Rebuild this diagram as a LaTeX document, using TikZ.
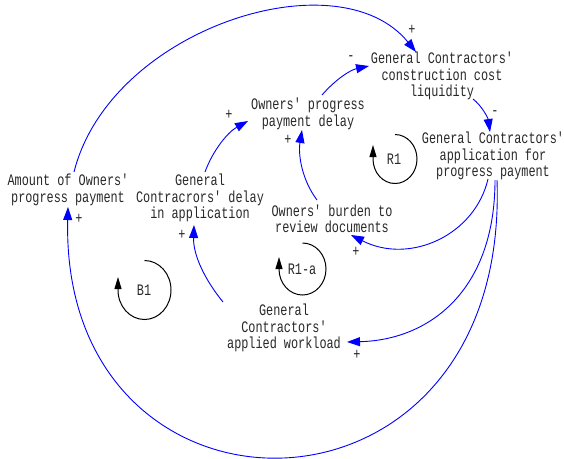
\documentclass[tikz,border=0pt]{standalone}
\usepackage{fontspec}
\newfontfamily\cldfont[FakeStretch=0.74]{Liberation Mono}
\usetikzlibrary{arrows.meta}
\definecolor{txt}{RGB}{40,40,40}
\definecolor{linkblue}{RGB}{0,0,255}
\tikzset{
  var/.style={font={\cldfont\fontsize{16}{16.5}\selectfont}, text=txt, align=center, inner sep=0pt},
  polarity/.style={font={\cldfont\fontsize{16}{16}\selectfont}, text=txt, inner sep=0pt},
  link/.style={draw=linkblue, line width=0.9pt, -{Triangle[length=13pt,width=9pt]}},
  loopline/.style={draw=black, line width=1pt, -{Triangle[length=12pt,width=7pt]}},
}
\begin{document}
\begin{tikzpicture}[x=1pt,y=-1pt]
\useasboundingbox (0,0) rectangle (564,458);

% variables
\node[var] (amt) at (68,190)  {Amount of Owners'\\progress payment};
\node[var] (del) at (200,198) {General\\Contracrors' delay\\in application};
\node[var] (opd) at (308,114) {Owners' progress\\payment delay};
\node[var] (liq) at (442,76)  {General Contractors'\\construction cost\\liquidity};
\node[var] (app) at (493,156) {General Contractors'\\application for\\progress payment};
\node[var] (bur) at (332,219) {Owners' burden to\\review documents};
\node[var] (wl)  at (284,328) {General\\Contractors'\\applied workload};

% loop identifiers
\node[var] (b1)  at (144,290) {B1};
\node[var] (r1a) at (302,269) {R1-a};
\node[var] (r1)  at (394,159) {R1};

% causal links
\draw[link] ([shift={(6,-18)}]amt.center) .. controls +(36,-143) and +(-78,-96) .. ([shift={(-26,-24)}]liq.center);
\draw[link] ([shift={(5,-26)}]del.center) .. controls +(8,-22) and +(-20,11) .. ([shift={(-60,7)}]opd.center);
\draw[link] ([shift={(14,-19)}]opd.center) .. controls +(13,-15) and +(-19,4) .. ([shift={(-73,-10)}]liq.center);
\draw[link] ([shift={(31,23)}]liq.center) .. controls +(9,7) and +(-2,-14) .. ([shift={(-3,-24)}]app.center);
\draw[link] ([shift={(-15,-19)}]bur.center) .. controls +(-15,-20) and +(-4,25) .. ([shift={(-6,16)}]opd.center);
\draw[link] ([shift={(-5,23)}]app.center) .. controls +(-13,56) and +(59,30) .. ([shift={(19,16)}]bur.center);
\draw[link] ([shift={(2,24)}]app.center) .. controls +(0,110) and +(83,-2) .. ([shift={(63,14)}]wl.center);
\draw[link] ([shift={(4,24)}]app.center) .. controls +(13,364) and +(-8,337) .. ([shift={(0,17)}]amt.center);
\draw[link] ([shift={(-61,-26)}]wl.center) .. controls +(-18,-22) and +(-1,30) .. ([shift={(-6,27)}]del.center);

% link polarities
\node[polarity] (p1) at (412,30)  {+};
\node[polarity] (p2) at (229,115) {+};
\node[polarity] (p3) at (351,58)  {-};
\node[polarity] (p4) at (495,113) {-};
\node[polarity] (p5) at (288,140) {+};
\node[polarity] (p6) at (356,252) {+};
\node[polarity] (p7) at (357,355) {+};
\node[polarity] (p8) at (79,219)  {+};
\node[polarity] (p9) at (182,235) {+};

% loop arrows: clockwise circle ending in an upward tip on the left
\draw[loopline] ([shift={(0.5,-29.5)}]b1.center) arc[start angle=90, end angle=-180, x radius=26.5pt, y radius=29.5pt] -- ++(0,-13);
\draw[loopline] ([shift={(0.5,-26)}]r1a.center) arc[start angle=90, end angle=-180, x radius=23.5pt, y radius=26pt] -- ++(0,-12);
\draw[loopline] ([shift={(1,-24.5)}]r1.center) arc[start angle=90, end angle=-180, x radius=22pt, y radius=24.5pt] -- ++(0,-14);
\end{tikzpicture}
\end{document}
